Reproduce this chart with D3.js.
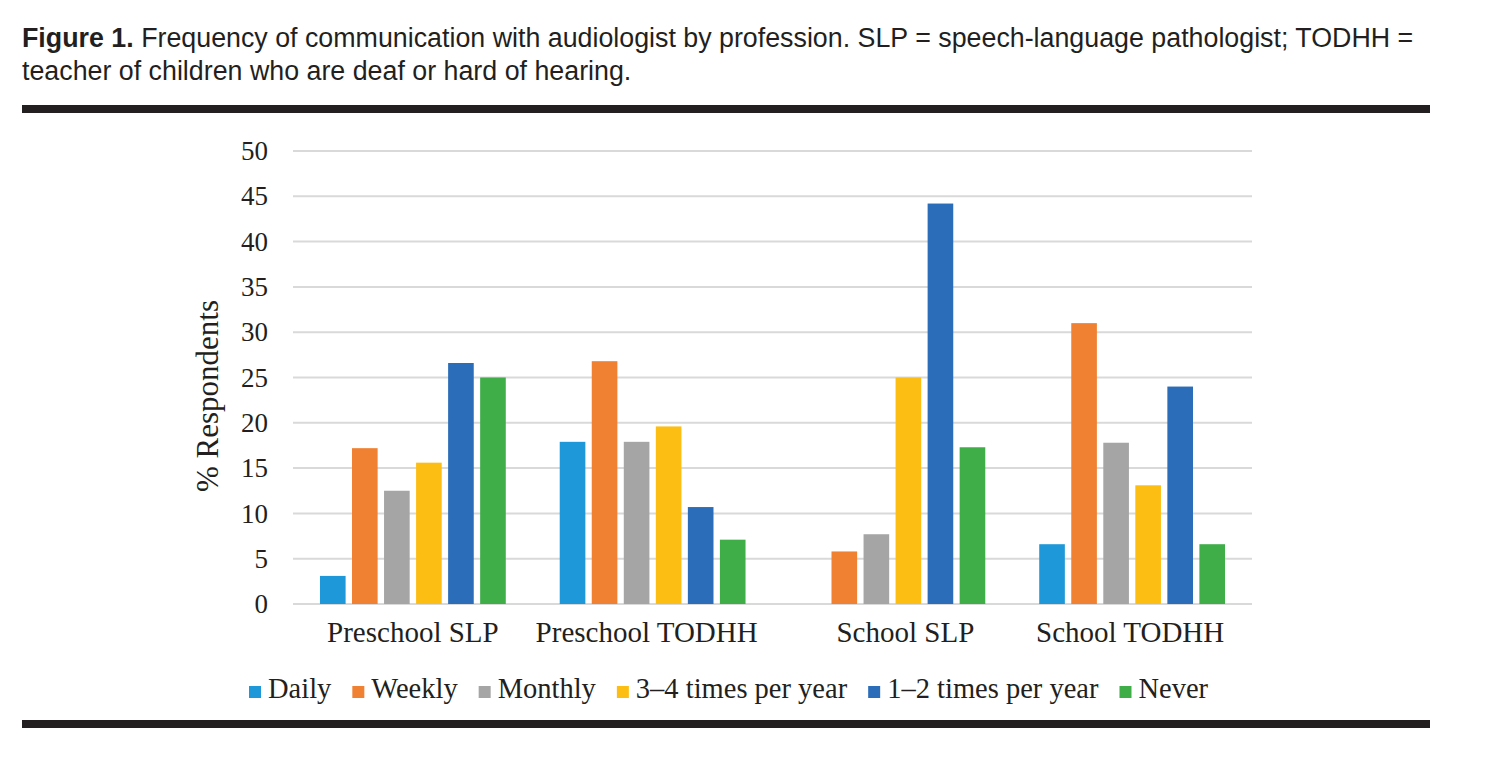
<!DOCTYPE html>
<html>
<head>
<meta charset="utf-8">
<script src="https://cdn.jsdelivr.net/npm/d3@7"></script>
<style>
  html, body { margin: 0; padding: 0; background: #fff; }
  svg { display: block; }
</style>
</head>
<body>
<svg id="chart" width="1491" height="764"></svg>
<script>
// ---- Data ----
const categories = ["Preschool SLP", "Preschool TODHH", "School SLP", "School TODHH"];
const seriesNames = ["Daily", "Weekly", "Monthly", "3\u20134 times per year", "1\u20132 times per year", "Never"];
const daily     = [3.1, 17.9, 0.0, 6.6];
const weekly    = [17.2, 26.8, 5.8, 31.0];
const monthly   = [12.5, 17.9, 7.7, 17.8];
const times34   = [15.6, 19.6, 25.0, 13.1];
const times12   = [26.6, 10.7, 44.2, 24.0];
const never     = [25.0, 7.1, 17.3, 6.6];
const yTicks    = [0, 5, 10, 15, 20, 25, 30, 35, 40, 45, 50];
const colors    = ["#1E98D8", "#F08032", "#A5A5A5", "#FDBE14", "#2B6DB8", "#3FAE49"];

const seriesValues = [daily, weekly, monthly, times34, times12, never];

const svg = d3.select("#chart");
const serif = "'Liberation Serif', 'Times New Roman', serif";
const sans = "'Liberation Sans', Arial, Helvetica, sans-serif";
const ink = "#231f20";

// ---- Caption ----
const cap = svg.append("text").attr("x", 22).attr("y", 47)
  .style("font-family", sans).style("font-size", "26.8px").attr("fill", ink);
cap.append("tspan").style("font-weight", "bold").text("Figure 1.");
cap.append("tspan").text(" Frequency of communication with audiologist by profession. SLP = speech-language pathologist; TODHH =");
svg.append("text").attr("x", 22).attr("y", 80)
  .style("font-family", sans).style("font-size", "26.8px").attr("fill", ink)
  .text("teacher of children who are deaf or hard of hearing.");

// rules
svg.append("rect").attr("x", 22).attr("y", 105).attr("width", 1408).attr("height", 8).attr("fill", ink);
svg.append("rect").attr("x", 22).attr("y", 720).attr("width", 1408).attr("height", 8).attr("fill", ink);

// ---- Scales ----
const pLeft = 293, pRight = 1252, pTop = 151, pBottom = 604;
const y = d3.scaleLinear().domain([0, 50]).range([pBottom, pTop]);
const x0 = d3.scaleBand().domain(categories).range([pLeft, pRight]).padding(0);
const bw = x0.bandwidth();
const x1 = d3.scaleBand().domain(seriesNames).range([bw * 0.1125, bw * 0.8875]).paddingInner(0.2).paddingOuter(0);

// gridlines
svg.append("g").selectAll("line").data(yTicks).join("line")
  .attr("x1", pLeft).attr("x2", pRight)
  .attr("y1", d => y(d)).attr("y2", d => y(d))
  .attr("stroke", "#D9D9D9").attr("stroke-width", 2);

// y axis labels
const yAxis = d3.axisLeft(y).tickValues(yTicks).tickSize(0).tickPadding(0).tickFormat(d3.format("d"));
const yg = svg.append("g").attr("transform", `translate(${pLeft - 25},0)`).call(yAxis);
yg.select(".domain").remove();
yg.selectAll("text").style("font-family", serif).style("font-size", "27px").attr("fill", ink);

// y axis title
svg.append("text")
  .attr("transform", `translate(218,396) rotate(-90)`)
  .attr("text-anchor", "middle")
  .style("font-family", serif).style("font-size", "31px").attr("fill", ink)
  .text("% Respondents");

// bars
const groups = svg.append("g").selectAll("g").data(categories).join("g")
  .attr("transform", d => `translate(${x0(d)},0)`);
groups.selectAll("rect")
  .data((c, ci) => seriesNames.map((s, si) => ({ s, si, v: seriesValues[si][ci] })))
  .join("rect")
  .attr("x", d => x1(d.s))
  .attr("width", x1.bandwidth())
  .attr("y", d => y(d.v))
  .attr("height", d => y(0) - y(d.v))
  .attr("fill", d => colors[d.si]);

// x axis labels (small horizontal nudges as in the source rendering)
const labelNudge = [0, -6, 13, -2];
const xAxis = d3.axisBottom(x0).tickSize(0).tickPadding(0);
const xg = svg.append("g").attr("transform", `translate(0,${pBottom + 38})`).call(xAxis);
xg.select(".domain").remove();
xg.selectAll("text").attr("dy", 0).attr("dx", (d, i) => labelNudge[i])
  .style("font-family", serif).style("font-size", "29px").attr("fill", ink);

// legend
const legend = svg.append("g");
let lx = 249;
seriesNames.forEach((name, i) => {
  legend.append("rect").attr("x", lx).attr("y", 686).attr("width", 12).attr("height", 12).attr("fill", colors[i]);
  const t = legend.append("text").attr("x", lx + 19).attr("y", 698)
    .style("font-family", serif).style("font-size", "28.5px").attr("fill", ink).text(name);
  lx += 19 + t.node().getComputedTextLength() + 21;
});
</script>
</body>
</html>
